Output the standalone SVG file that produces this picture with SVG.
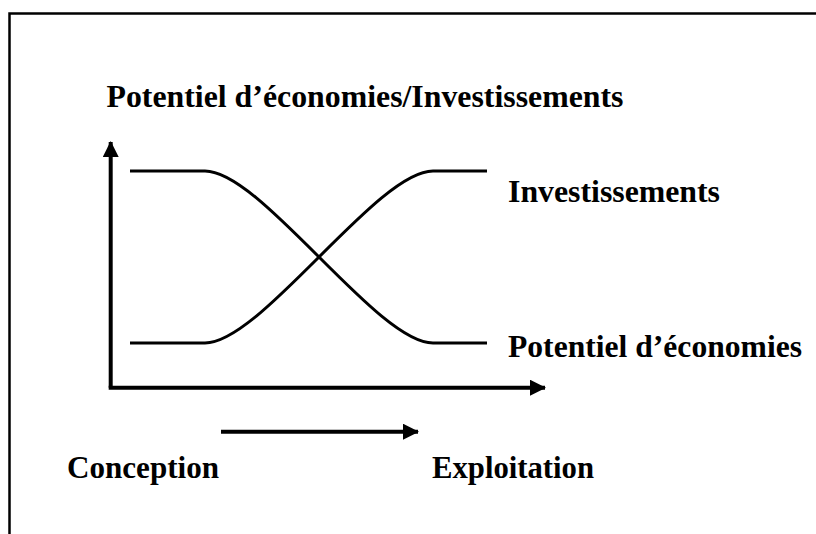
<svg xmlns="http://www.w3.org/2000/svg" width="816" height="534" viewBox="0 0 816 534">
  <style>
    .lbl { font-family: "Liberation Serif", "DejaVu Serif", serif; font-weight: bold; font-size: 32px; fill: #000; }
    .axis { stroke: #000; stroke-width: 4; fill: none; }
    .curve { stroke: #000; stroke-width: 3; fill: none; }
    .frame { stroke: #000; stroke-width: 2.5; fill: none; }
  </style>
  <defs>
    <marker id="ah" markerUnits="userSpaceOnUse" markerWidth="16" markerHeight="16" viewBox="0 0 16 16" refX="15" refY="8" orient="auto">
      <path d="M0,0 L16,8 L0,16 Z" fill="#000"/>
    </marker>
  </defs>
  <rect width="816" height="534" fill="#fff"/>
  <path class="frame" d="M9.5,534 V13.5 H816"/>

  <g id="connectors">
    <path id="y-axis" class="axis" d="M110.7,387.7 V142" marker-end="url(#ah)"/>
    <path id="x-axis" class="axis" d="M108.7,387.7 H545" marker-end="url(#ah)"/>
    <path id="time-arrow" class="axis" d="M221,431.7 H418" stroke-width="4.5" marker-end="url(#ah)"/>
  </g>

  <g id="curve-potentiel">
    <path class="curve" d="M130,171 H205 C261,171 377,343 433,343 H487"/>
  </g>
  <g id="curve-investissements">
    <path class="curve" d="M130,343 H205 C261,343 377,171 433,171 H487"/>
  </g>

  <g id="label-title">
    <text class="lbl" x="106.5" y="107" textLength="517" lengthAdjust="spacingAndGlyphs">Potentiel d’économies/Investissements</text>
  </g>
  <g id="label-investissements">
    <text class="lbl" x="508" y="202" textLength="212" lengthAdjust="spacingAndGlyphs">Investissements</text>
  </g>
  <g id="label-potentiel">
    <text class="lbl" x="508" y="357" textLength="294" lengthAdjust="spacingAndGlyphs">Potentiel d’économies</text>
  </g>
  <g id="label-conception">
    <text class="lbl" x="67" y="478" textLength="152" lengthAdjust="spacingAndGlyphs">Conception</text>
  </g>
  <g id="label-exploitation">
    <text class="lbl" x="432" y="478" textLength="162" lengthAdjust="spacingAndGlyphs">Exploitation</text>
  </g>
</svg>
